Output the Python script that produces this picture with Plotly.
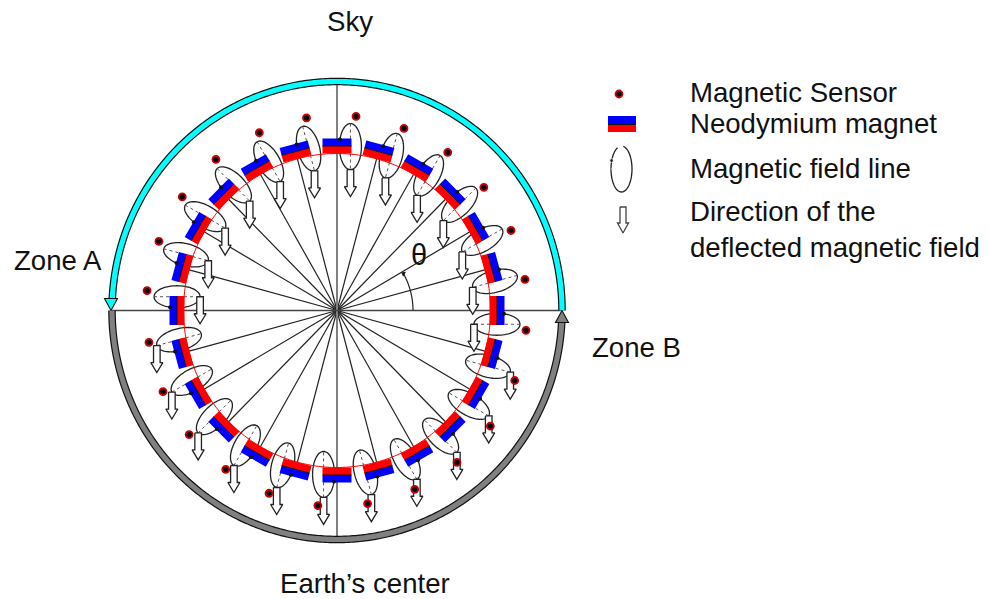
import numpy as np
import plotly.graph_objects as go

# ---- values ----
magnet_angles = [0, 15, 30, 45, 60, 75, 90, 105, 120, 135, 150, 165,
                 180, 195, 210, 225, 240, 255, 270, 285, 300, 315, 330, 345]
sensor_angles = [354, 9.4, 24.7, 40, 55, 69.8, 84.4, 99, 113.6, 128.7, 143.7, 158.8,
                 174, 189.6, 205, 220, 235, 249.6, 264.4, 279, 293.5, 308.3, 323, 338.5]
sensor_radii = [190, 190.5, 191.5, 191.7, 193, 194, 195, 195, 194, 193.6, 192, 191,
                191, 190.7, 192, 193, 194, 195, 196, 195.5, 195, 193.6, 192, 191]
theta_arc_end = 29
legend_labels = ["Magnetic Sensor", "Neodymium magnet", "Magnetic field line",
                 "Direction of the", "deflected magnetic field"]
zone_labels = ["Sky", "Zone A", "Zone B", "Earth\u2019s center"]

CX, CY = 337.0, 310.5
OUTER_RX, OUTER_RY = 225.0, 229.0
FONT = "Liberation Sans, Arial, sans-serif"


def polar(r, deg, ry=None):
    a = np.radians(deg)
    return CX + r * np.cos(a), CY - (ry if ry is not None else r) * np.sin(a)


def rotated_rect(x0, y0, deg, r0, r1, halfw):
    a = np.radians(deg)
    ur = np.array([np.cos(a), -np.sin(a)])
    ut = np.array([np.sin(a), np.cos(a)])
    c = np.array([x0, y0])
    pts = [c + ur * r0 + ut * halfw, c + ur * r1 + ut * halfw,
           c + ur * r1 - ut * halfw, c + ur * r0 - ut * halfw,
           c + ur * r0 + ut * halfw]
    return [p[0] for p in pts], [p[1] for p in pts]


def ellipse_pts(x0, y0, deg, major, minor, t0=0, t1=360):
    a = np.radians(deg)
    t = np.radians(np.linspace(t0, t1, 73))
    ur = np.array([np.cos(a), -np.sin(a)])
    ut = np.array([np.sin(a), np.cos(a)])
    xs = x0 + major * np.cos(t) * ur[0] + minor * np.sin(t) * ut[0]
    ys = y0 + major * np.cos(t) * ur[1] + minor * np.sin(t) * ut[1]
    return xs.tolist(), ys.tolist()


def down_arrow(x, y, length=27, shaft=3.3, head=6, headlen=10):
    ys = y + length
    return ([x - shaft, x + shaft, x + shaft, x + head, x, x - head, x - shaft, x - shaft],
            [y, y, ys - headlen, ys - headlen, ys, ys - headlen, ys - headlen, y])


def merge(polys):
    xs, ys = [], []
    for px, py in polys:
        xs += list(px) + [None]
        ys += list(py) + [None]
    return xs, ys


fig = go.Figure()


def line(xs, ys, color="#222222", width=1.2, dash=None):
    fig.add_trace(go.Scatter(x=xs, y=ys, mode="lines", hoverinfo="skip", showlegend=False,
                             line=dict(color=color, width=width, dash=dash, simplify=False)))


def poly(polys, fill, color=None, width=0):
    xs, ys = merge(polys)
    fig.add_trace(go.Scatter(x=xs, y=ys, mode="lines", fill="toself", fillcolor=fill,
                             hoverinfo="skip", showlegend=False,
                             line=dict(color=color or fill, width=width, simplify=False)))


# spokes
sx, sy = [], []
for m in magnet_angles:
    if m % 90:
        x, y = polar(153, m, 157)
        sx += [CX, x, None]
        sy += [CY, y, None]
line(sx, sy)

# main axes
line([CX, CX], [CY - OUTER_RY, CY + OUTER_RY], "#808080", 2)
line([CX - OUTER_RX, CX + OUTER_RX], [CY, CY], "#444444", 1.5)

# theta arc
arc = np.linspace(0, theta_arc_end, 40)
ax, ay = polar(76, arc)
line(ax.tolist(), ay.tolist(), "#222222", 1.2)
tipx, tipy = polar(76, theta_arc_end)
fig.add_trace(go.Scatter(x=[tipx], y=[tipy], mode="markers", hoverinfo="skip", showlegend=False,
                         marker=dict(symbol="triangle-up", size=5, color="#111111",
                                     angle=-60)))

# outer arcs
a1 = np.linspace(0, 177, 300)
a2 = np.linspace(180, 357, 300)
for arr, col in ((a1, "#00FFFF"), (a2, "#808080")):
    xs, ys = polar(OUTER_RX, arr, OUTER_RY)
    line(xs.tolist(), ys.tolist(), "#111111", 7.6)
    line(xs.tolist(), ys.tolist(), col, 5.2)
poly([([CX - OUTER_RX - 1, CX - OUTER_RX - 7.5, CX - OUTER_RX + 5.5, CX - OUTER_RX - 1],
       [CY, CY - 12, CY - 12, CY])], "#00FFFF", "#111111", 1.1)
poly([([CX + OUTER_RX, CX + OUTER_RX - 6.5, CX + OUTER_RX + 6.5, CX + OUTER_RX],
       [CY, CY + 12, CY + 12, CY])], "#808080", "#111111", 1.1)

# field-line ellipses
centres = [polar(160.5, m - 4.8, 164.5) for m in magnet_angles]
ell = [ellipse_pts(c[0], c[1], m, 23, 11) for c, m in zip(centres, magnet_angles)]
poly(ell, "#FFFFFF", "#222222", 1.3)

# dotted major axes
dx, dy = [], []
low_ends = []
for c, m in zip(centres, magnet_angles):
    a = np.radians(m)
    p = (c[0] + 23 * np.cos(a), c[1] - 23 * np.sin(a))
    q = (c[0] - 23 * np.cos(a), c[1] + 23 * np.sin(a))
    dx += [p[0], q[0], None]
    dy += [p[1], q[1], None]
    low_ends.append(p if p[1] > q[1] else q)
line(dx, dy, "#555555", 1, "dot")

# thin red ring
ra = np.linspace(0, 360, 361)
rx_, ry_ = polar(153.5, ra, 157)
line(rx_.tolist(), ry_.tolist(), "#FF0000", 1)

# magnets
mid = [polar(160, m, 164.5) for m in magnet_angles]
poly([rotated_rect(c[0], c[1], m, -7.5, 0, 14.5) for c, m in zip(mid, magnet_angles)], "#FF0000")
poly([rotated_rect(c[0], c[1], m, 0, 7.5, 14.5) for c, m in zip(mid, magnet_angles)], "#0000FF")
bx, by = [], []
for c, m in zip(mid, magnet_angles):
    px, py = rotated_rect(c[0], c[1], m, 0, 0.01, 14.5)
    bx += [px[0], px[2], None]
    by += [py[0], py[2], None]
line(bx, by, "#111111", 1)

# small arrow heads on the field lines
hx, hy = [], []
for c, m in zip(centres, magnet_angles):
    a = np.radians(m)
    hx.append(c[0] + 7 * np.cos(a) - 10.5 * np.sin(a))
    hy.append(c[1] - 7 * np.sin(a) - 10.5 * np.cos(a))
fig.add_trace(go.Scatter(x=hx, y=hy, mode="markers", hoverinfo="skip", showlegend=False,
                         marker=dict(size=4, color="#111111")))

# deflected field arrows
poly([down_arrow(p[0], p[1]) for p in low_ends], "#FFFFFF", "#222222", 1.3)

# sensors
sens = [polar(r, a) for r, a in zip(sensor_radii, sensor_angles)]
fig.add_trace(go.Scatter(x=[s[0] for s in sens], y=[s[1] for s in sens], mode="markers",
                         hoverinfo="skip", showlegend=False,
                         marker=dict(size=7, color="#000000", line=dict(color="#CC0000", width=1.8))))

# legend marks
fig.add_trace(go.Scatter(x=[619], y=[94], mode="markers", hoverinfo="skip", showlegend=False,
                         marker=dict(size=7, color="#000000", line=dict(color="#CC0000", width=1.8))))
poly([([608, 636, 636, 608, 608], [116, 116, 124.5, 124.5, 116])], "#0000FF")
poly([([608, 636, 636, 608, 608], [124.5, 124.5, 132, 132, 124.5])], "#FF0000")
line([608, 636], [124.5, 124.5], "#111111", 1)
lx, ly = ellipse_pts(621.5, 169, 90, 23, 10.5, 10, 338)
line(lx, ly, "#222222", 1.3)
fig.add_trace(go.Scatter(x=[611.5, 612], y=[160.5, 169], mode="markers", hoverinfo="skip", showlegend=False,
                         marker=dict(size=[4, 1.5], color="#111111")))
arx, ary = down_arrow(623, 207, length=26, shaft=3, head=5.5, headlen=10)
poly([(arx, ary)], "#FFFFFF", "#444444", 1.3)


def label(txt, x, y, anchor="left", size=27.6):
    fig.add_annotation(x=x, y=y, xref="x", yref="y", text=txt, showarrow=False,
                       xanchor=anchor, yanchor="middle",
                       font=dict(family=FONT, size=size, color="#111111"))


label(zone_labels[0], 350, 21, "center")
label(zone_labels[1], 12, 260)
label(zone_labels[2], 590, 347)
label(zone_labels[3], 365, 583, "center")
for txt, yy in zip(legend_labels, [92, 123, 168, 211, 247]):
    label(txt, 688, yy)
label("\u03b8", 419, 255, "center", 29)

fig.update_layout(width=989, height=599, margin=dict(l=0, r=0, t=0, b=0),
                  paper_bgcolor="white", plot_bgcolor="white", showlegend=False,
                  xaxis=dict(range=[0, 989], visible=False, fixedrange=True),
                  yaxis=dict(range=[599, 0], visible=False, fixedrange=True))
fig.write_html("out.html", config=dict(displayModeBar=False),
               post_script="document.body.style.margin='0';document.body.style.overflow='hidden';")
